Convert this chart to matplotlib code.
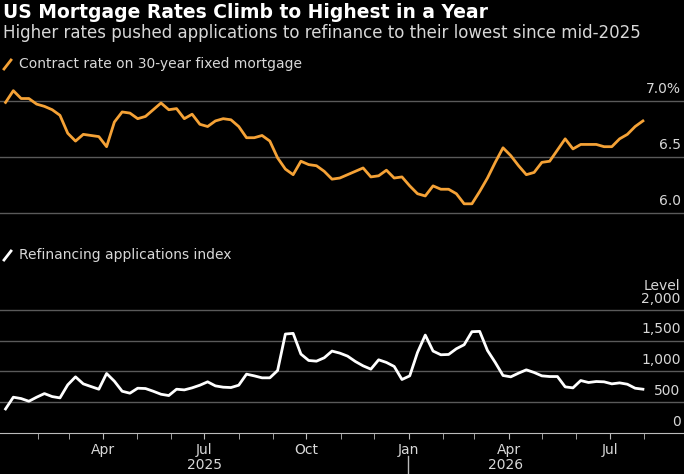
import pandas as pd
import matplotlib.pyplot as plt
import matplotlib.dates as mdates

# weekly observations
dates = pd.date_range('2025-01-03', periods=83, freq='7D')

rate = [6.985, 7.09, 7.02, 7.02, 6.97, 6.95, 6.92, 6.87, 6.71, 6.64, 6.70, 6.69, 6.68, 6.59,
        6.81, 6.90, 6.89, 6.84, 6.86, 6.92, 6.98, 6.92, 6.93, 6.84, 6.88, 6.79, 6.77, 6.82,
        6.84, 6.83, 6.77, 6.67, 6.67, 6.69, 6.64, 6.49, 6.39, 6.34, 6.46, 6.43, 6.42, 6.37,
        6.30, 6.31, 6.34, 6.37, 6.40, 6.32, 6.33, 6.38, 6.31, 6.32, 6.24, 6.17, 6.15, 6.24,
        6.21, 6.21, 6.17, 6.08, 6.08, 6.19, 6.31, 6.45, 6.58, 6.51, 6.42, 6.34, 6.36, 6.45,
        6.46, 6.56, 6.66, 6.57, 6.61, 6.61, 6.61, 6.59, 6.59, 6.66, 6.70, 6.77, 6.82]

refi = [391, 582, 560, 516, 582, 641, 592, 571, 783, 913, 799, 755, 712, 967, 842, 679,
        647, 728, 723, 679, 630, 609, 712, 701, 734, 777, 832, 766, 745, 739, 777, 957,
        929, 897, 897, 1016, 1609, 1620, 1283, 1179, 1168, 1223, 1332, 1299, 1250, 1163,
        1092, 1038, 1190, 1147, 1082, 870, 929, 1310, 1592, 1332, 1272, 1277, 1370, 1435,
        1647, 1652, 1342, 1147, 935, 913, 973, 1027, 984, 929, 918, 918, 750, 734, 853,
        821, 837, 832, 799, 815, 793, 728, 712]

rate_ticks = [6.0, 6.5, 7.0]
rate_labels = ['6.0', '6.5', '7.0%']
refi_ticks = [0, 500, 1000, 1500, 2000]
refi_labels = ['0', '500', '1,000', '1,500', '2,000']
month_ticks = pd.date_range('2025-02-01', '2026-08-01', freq='MS')
quarter_ticks = pd.to_datetime(['2025-04-01', '2025-07-01', '2025-10-01',
                                '2026-01-01', '2026-04-01', '2026-07-01'])

orange = '#f5a236'
grid = '#5a5a5a'
txt = '#d8d8d8'
W, H = 684, 474

fig = plt.figure(figsize=(6.84, 4.74), dpi=100, facecolor='black')
xlim = (pd.Timestamp('2024-12-29'), pd.Timestamp('2026-09-06'))


def make_ax(top, bottom):
    ax = fig.add_axes([0, 1 - bottom / H, 1, (bottom - top) / H])
    ax.set_facecolor('black')
    ax.set_xlim(*xlim)
    for s in ax.spines.values():
        s.set_visible(False)
    ax.set_yticks([])
    ax.set_xticks([])
    return ax


ax1 = make_ax(75, 215)
ax1.set_ylim(5.98, 7.23)
for t, lab in zip(rate_ticks, rate_labels):
    ax1.axhline(t, color=grid, lw=1, zorder=1)
    ax1.text(0.995, t + 0.04, lab, transform=ax1.get_yaxis_transform(), ha='right',
             va='bottom', color=txt, fontsize=10)
ax1.plot(dates, rate, color=orange, lw=2, zorder=3)

ax2 = make_ax(290, 433)
ax2.set_ylim(0, 2325)
for t, lab in zip(refi_ticks, refi_labels):
    if t > 0:
        ax2.axhline(t, color=grid, lw=1, zorder=1)
    ax2.text(0.995, t + 70, lab, transform=ax2.get_yaxis_transform(), ha='right',
             va='bottom', color=txt, fontsize=10)
ax2.text(0.995, 2280, 'Level', transform=ax2.get_yaxis_transform(), ha='right',
         va='bottom', color=txt, fontsize=10)
ax2.plot(dates, refi, color='white', lw=2, zorder=3)
ax2.spines['bottom'].set_visible(True)
ax2.spines['bottom'].set_color('#bbbbbb')
ax2.set_xticks(quarter_ticks)
ax2.set_xticks(month_ticks, minor=True)
ax2.xaxis.set_major_formatter(mdates.DateFormatter('%b'))
ax2.tick_params(axis='x', which='both', colors='#bbbbbb', labelcolor=txt, labelsize=10,
                length=4, direction='out')

# year labels and separator
fig.text(204 / W, 1 - 465 / H, '2025', ha='center', va='center', color=txt, fontsize=10)
fig.text(506 / W, 1 - 465 / H, '2026', ha='center', va='center', color=txt, fontsize=10)
fig.add_artist(plt.Line2D([408 / W, 408 / W], [1 - 456 / H, 0], color='#bbbbbb', lw=1))

# titles
fig.text(3 / W, 1 - 12 / H, 'US Mortgage Rates Climb to Highest in a Year', ha='left',
         va='center', color='white', fontsize=13.5, fontweight='bold')
fig.text(3 / W, 1 - 33 / H, 'Higher rates pushed applications to refinance to their lowest since mid-2025',
         ha='left', va='center', color=txt, fontsize=12)

# legend keys
fig.add_artist(plt.Line2D([4 / W, 11 / W], [1 - 69 / H, 1 - 60 / H], color=orange, lw=2))
fig.text(19 / W, 1 - 64 / H, 'Contract rate on 30-year fixed mortgage', ha='left',
         va='center', color=txt, fontsize=10)
fig.add_artist(plt.Line2D([4 / W, 11 / W], [1 - 260 / H, 1 - 251 / H], color='white', lw=2))
fig.text(19 / W, 1 - 255 / H, 'Refinancing applications index', ha='left',
         va='center', color=txt, fontsize=10)

fig.savefig('out.png', dpi=100, facecolor='black')
